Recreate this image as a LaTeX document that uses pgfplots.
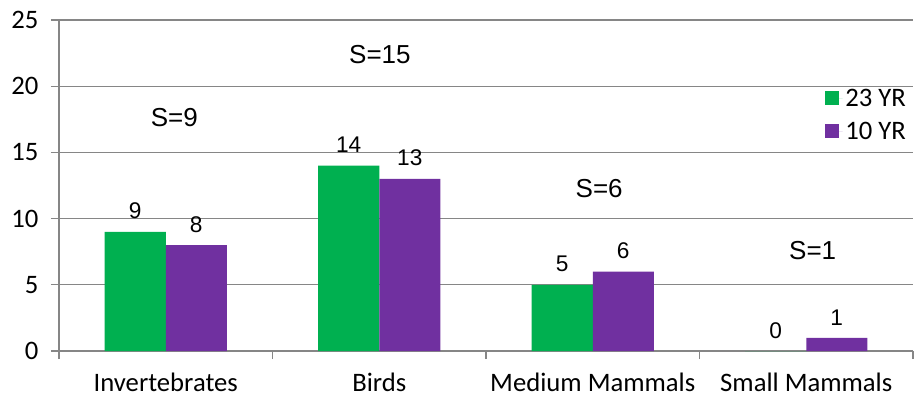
\documentclass[border=0pt]{standalone}
\usepackage{pgfplots}
\pgfplotsset{compat=1.18}
\usepackage{fontspec}
\setmainfont{Carlito}
\newfontfamily\arialf{Liberation Sans}
\definecolor{cgreen}{HTML}{00B050}
\definecolor{cpurple}{HTML}{7030A0}
\definecolor{cgrid}{RGB}{134,134,134}
\begin{document}
\begin{tikzpicture}
\begin{axis}[
  name=ax,
  scale only axis,
  width=640.5pt, height=248.25pt,
  xmin=-0.5, xmax=3.5,
  ymin=0, ymax=25,
  ytick={0,5,10,15,20,25},
  xtick={0,1,2,3},
  xticklabels={Invertebrates,Birds,Medium Mammals,Small Mammals},
  minor xtick={-0.5,0.5,1.5,2.5,3.5},
  major x tick style={draw=none},
  minor x tick style={draw=cgrid, line width=0.9pt},
  minor tick length=6pt,
  major tick length=6pt,
  tick align=outside,
  ytick style={draw=cgrid, line width=0.9pt},
  axis x line*=bottom,
  axis y line*=left,
  axis line style={draw=cgrid, line width=0.9pt, -},
  ymajorgrids,
  grid style={draw=cgrid, line width=0.8pt},
  /pgf/number format/assume math mode=true,
  tick label style={font=\fontsize{20}{23}\selectfont},
  yticklabel style={xshift=-6pt},
  xticklabel style={yshift=-7pt},
  ybar,
  bar width=0.286,
  nodes near coords,
  every node near coord/.append style={font=\arialf\fontsize{17}{20}\selectfont, color=black, yshift=6pt},
  legend style={draw=none, fill=none, at={(0.995,0.80)}, anchor=north east,
     font=\fontsize{20}{23}\selectfont, row sep=6pt, inner sep=0pt},
  legend cell align=left,
  legend image code/.code={\fill[#1] (-4.5pt,-5pt) rectangle (6pt,5.5pt); \path (6pt,0pt) -- (9pt,0pt);},
  clip=false,
]
\addplot[fill=cgreen, draw=none, bar shift=-0.143] coordinates {(0,9) (1,14) (2,5) (3,0)};
\addplot[fill=cpurple, draw=none, bar shift=0.143] coordinates {(0,8) (1,13) (2,6) (3,1)};
\legend{23 YR, 10 YR}
\node[font=\arialf\fontsize{19.5}{22}\selectfont] at (axis cs:0.04,17.6) {S=9};
\node[font=\arialf\fontsize{19.5}{22}\selectfont] at (axis cs:1.003,22.4) {S=15};
\node[font=\arialf\fontsize{19.5}{22}\selectfont] at (axis cs:2.03,12.3) {S=6};
\node[font=\arialf\fontsize{19.5}{22}\selectfont] at (axis cs:3.03,7.6) {S=1};
\end{axis}
\pgfresetboundingbox
\path ([shift={(-44.25pt,-36.75pt)}]ax.south west) rectangle ([shift={(3.75pt,15pt)}]ax.north east);
\end{tikzpicture}
\end{document}
